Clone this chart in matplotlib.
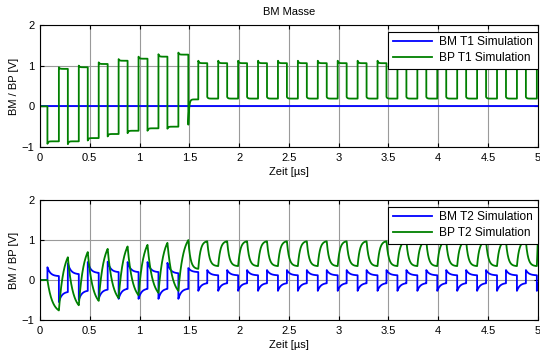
import numpy as np
import matplotlib
matplotlib.use("Agg")
import matplotlib.pyplot as plt
from matplotlib.ticker import FormatStrFormatter

plt.rcParams['font.family'] = ['Liberation Sans', 'DejaVu Sans']

# switching instants of the bus signal [us]
edges = [0.0, 0.075,
         0.19, 0.28, 0.39, 0.48, 0.59, 0.68, 0.79, 0.88, 0.99, 1.08, 1.19, 1.28, 1.39, 1.49,
         1.59, 1.68, 1.79, 1.88, 1.99, 2.08, 2.19, 2.28, 2.39, 2.48,
         2.59, 2.68, 2.79, 2.88, 2.99, 3.08, 3.19, 3.28, 3.39, 3.48,
         3.59, 3.68, 3.79, 3.88, 3.99, 4.08, 4.19, 4.28, 4.39, 4.48,
         4.59, 4.68, 4.79, 4.88, 4.99, 5.0]

# T1: BM shorted to ground, BP swings (value right after edge / value before next edge)
bm_t1_time = [0.0, 5.0]
bm_t1_val = [0.0, 0.0]
bp_t1_start = [0.0, -0.92, 0.96, -0.93, 1.00, -0.84, 1.08, -0.74, 1.16, -0.66, 1.22, -0.60, 1.28, -0.55, 1.32, -0.45,
               1.12, 0.23, 1.12, 0.23, 1.12, 0.23, 1.12, 0.23, 1.12, 0.23,
               1.12, 0.23, 1.12, 0.23, 1.12, 0.23, 1.12, 0.23, 1.12, 0.23,
               1.12, 0.23, 1.12, 0.23, 1.12, 0.23, 1.12, 0.23, 1.12, 0.23,
               1.12, 0.23, 1.12, 0.23, 1.12]
bp_t1_end = [0.0, -0.86, 0.92, -0.86, 0.96, -0.78, 1.04, -0.68, 1.12, -0.60, 1.17, -0.54, 1.22, -0.50, 1.27, 0.17,
             1.06, 0.19, 1.06, 0.19, 1.06, 0.19, 1.06, 0.19, 1.06, 0.19,
             1.06, 0.19, 1.06, 0.19, 1.06, 0.19, 1.06, 0.19, 1.06, 0.19,
             1.06, 0.19, 1.06, 0.19, 1.06, 0.19, 1.06, 0.19, 1.06, 0.19,
             1.06, 0.19, 1.06, 0.19, 1.06]

# T2: filtered signals at the far end
bm_t2_start = [0.0, 0.32, -0.55, 0.42, -0.50, 0.45, -0.47, 0.46, -0.47, 0.45, -0.47, 0.45, -0.47, 0.43, -0.47, 0.30,
               -0.27, 0.25, -0.27, 0.25, -0.27, 0.25, -0.27, 0.25, -0.27, 0.25,
               -0.27, 0.25, -0.27, 0.25, -0.27, 0.25, -0.27, 0.25, -0.27, 0.25,
               -0.27, 0.25, -0.27, 0.25, -0.27, 0.25, -0.27, 0.25, -0.27, 0.25,
               -0.27, 0.25, -0.27, 0.25, -0.27]
bm_t2_end = [0.0, 0.10, -0.30, 0.15, -0.27, 0.18, -0.24, 0.20, -0.22, 0.20, -0.22, 0.20, -0.22, 0.17, -0.22, 0.20,
             -0.08, 0.12, -0.08, 0.12, -0.08, 0.12, -0.08, 0.12, -0.08, 0.12,
             -0.08, 0.12, -0.08, 0.12, -0.08, 0.12, -0.08, 0.12, -0.08, 0.12,
             -0.08, 0.12, -0.08, 0.12, -0.08, 0.12, -0.08, 0.12, -0.08, 0.12,
             -0.08, 0.12, -0.08, 0.12, -0.08]
bp_t2_end = [0.0, -0.76, 0.57, -0.63, 0.70, -0.52, 0.78, -0.45, 0.84, -0.38, 0.88, -0.32, 0.93, -0.27, 1.00, 0.28,
             0.97, 0.35, 0.97, 0.35, 0.97, 0.35, 0.97, 0.35, 0.97, 0.35,
             0.97, 0.35, 0.97, 0.35, 0.97, 0.35, 0.97, 0.35, 0.97, 0.35,
             0.97, 0.35, 0.97, 0.35, 0.97, 0.35, 0.97, 0.35, 0.97, 0.35,
             0.97, 0.35, 0.97, 0.35, 0.97]


def build_wave(edges, starts, ends, taus, n=40):
    ts, ys = [], []
    for t0, t1, a, b, tau in zip(edges[:-1], edges[1:], starts, ends, taus):
        t = np.linspace(t0, t1, n)
        T = t1 - t0
        w = (np.exp(-(t - t0) / tau) - np.exp(-T / tau)) / (1 - np.exp(-T / tau))
        ts.append(t)
        ys.append(b + (a - b) * w)
    return np.concatenate(ts), np.concatenate(ys)


def style_axes(ax):
    ax.set_xlim(0, 5)
    ax.set_ylim(-1, 2)
    ax.set_xticks(np.arange(0, 5.01, 0.5))
    ax.set_yticks([-1, 0, 1, 2])
    ax.xaxis.set_major_formatter(FormatStrFormatter('%g'))
    ax.tick_params(direction='in', top=True, right=True, length=3, labelsize=8, pad=4)
    ax.grid(True, color='#9a9a9a', linewidth=0.8)
    for s in ax.spines.values():
        s.set_linewidth(0.8)
    ax.set_xlabel('Zeit [µs]', fontsize=8, labelpad=3)
    ax.set_ylabel('BM / BP [V]', fontsize=8, labelpad=2)


fig = plt.figure(figsize=(5.4, 3.56), dpi=100)
ax1 = fig.add_axes([0.074, 0.587, 0.922, 0.343])
ax2 = fig.add_axes([0.074, 0.101, 0.922, 0.337])

seg_t0 = np.array(edges[:-1])
tau_t1 = np.full(len(seg_t0), 0.008)
tau_bm2 = np.full(len(seg_t0), 0.03)
tau_bp2 = np.where(seg_t0 < 1.45, 0.05, 0.022)

t, y = build_wave(edges, bp_t1_start, bp_t1_end, tau_t1)
ax1.plot(bm_t1_time, bm_t1_val, color='#0000ff', lw=1.3, label='BM T1 Simulation')
ax1.plot(t, y, color='#008000', lw=1.3, label='BP T1 Simulation')
style_axes(ax1)
ax1.set_title('BM Masse', fontsize=8, pad=7)

bp_t2_start = [0.0] + bp_t2_end[:-1]
t, yb = build_wave(edges, bm_t2_start, bm_t2_end, tau_bm2)
t, yg = build_wave(edges, bp_t2_start, bp_t2_end, tau_bp2)
ax2.plot(t, yb, color='#0000ff', lw=1.3, label='BM T2 Simulation')
ax2.plot(t, yg, color='#008000', lw=1.3, label='BP T2 Simulation')
style_axes(ax2)

for ax in (ax1, ax2):
    leg = ax.legend(loc='upper right', bbox_to_anchor=(1.0, 0.945), fontsize=8.6,
                    fancybox=False, framealpha=1, edgecolor='black',
                    handlelength=3.3, handletextpad=0.6, borderpad=0.4,
                    labelspacing=0.3, borderaxespad=0)
    leg.get_frame().set_linewidth(0.8)

fig.savefig('out.png', dpi=100)
